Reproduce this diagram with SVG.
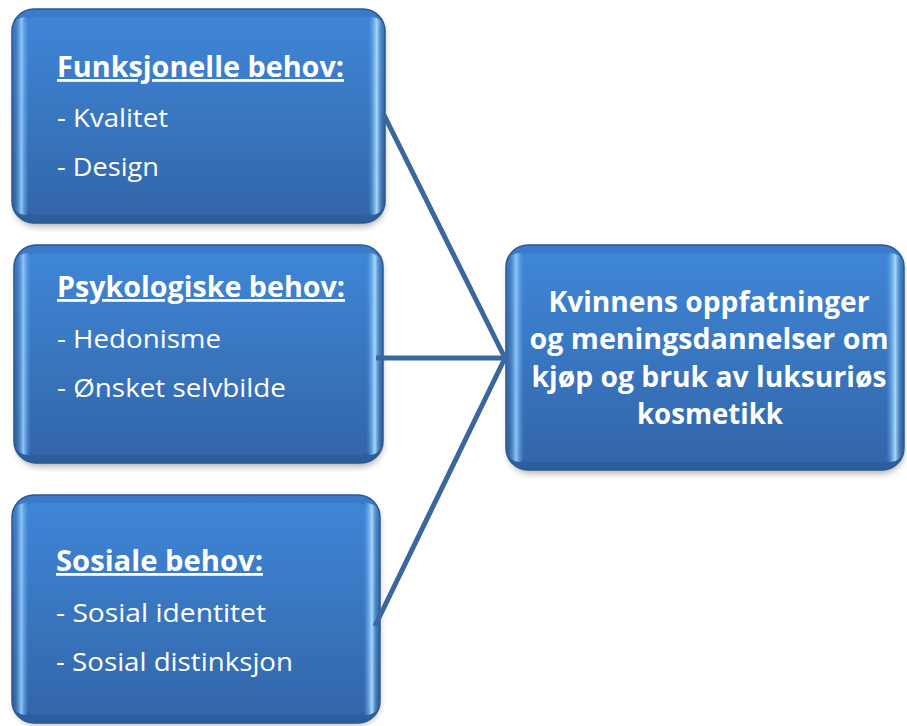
<svg xmlns="http://www.w3.org/2000/svg" width="907" height="726" viewBox="0 0 907 726">
<defs>
<linearGradient id="vert" x1="0" y1="0" x2="0" y2="1">
<stop offset="0" stop-color="#3a7ccb"/>
<stop offset="1" stop-color="#2c5d9c"/>
</linearGradient>
<linearGradient id="inner" x1="0" y1="0" x2="0" y2="1">
<stop offset="0" stop-color="#3f86d7"/>
<stop offset="1" stop-color="#3366a9"/>
</linearGradient>
<linearGradient id="edge" x1="0" y1="0" x2="1" y2="0">
<stop offset="0" stop-color="#2c5c98" stop-opacity="0"/>
<stop offset="0.025" stop-color="#8cc6fb"/>
<stop offset="0.045" stop-color="#5a9de6" stop-opacity="0"/>
<stop offset="0.955" stop-color="#5a9de6" stop-opacity="0"/>
<stop offset="0.978" stop-color="#a6dbff"/>
<stop offset="1" stop-color="#2c5c98" stop-opacity="0"/>
</linearGradient>
<filter id="shadow" x="-10%" y="-10%" width="120%" height="125%">
<feGaussianBlur stdDeviation="3"/>
</filter>
</defs>
<style>
.shadow{fill:#000;opacity:0.28;filter:url(#shadow)}
.base{fill:url(#vert);stroke:#2b5890;stroke-width:1.5}
.in{fill:url(#inner)}
.edge{fill:url(#edge)}
.t{font-family:"Open Sans","Noto Sans",sans-serif;fill:#fff}
.h{font-weight:bold;font-size:28px;text-decoration:underline}
.i{font-size:25.5px}
.c{font-weight:bold;font-size:28px;text-anchor:middle}
.conn{stroke:#3a679f;stroke-width:5;fill:none;stroke-linecap:butt}
</style>
<rect width="907" height="726" fill="#fff"/>

<g id="node-funksjonelle">
<rect class="shadow" x="14" y="13" width="371" height="214" rx="22"/>
<rect class="base" x="12" y="9" width="373" height="214" rx="22"/>
<rect class="in" x="22" y="17" width="353" height="198" rx="14"/>
<rect class="edge" x="12" y="17" width="373" height="198" rx="14"/>
<text class="t h" x="57" y="77" textLength="287" lengthAdjust="spacingAndGlyphs">Funksjonelle behov:</text>
<text class="t i" x="57" y="127" textLength="111" lengthAdjust="spacingAndGlyphs">- Kvalitet</text>
<text class="t i" x="57" y="176" textLength="102" lengthAdjust="spacingAndGlyphs">- Design</text>
</g>

<g id="node-psykologiske">
<rect class="shadow" x="16" y="249" width="367" height="218" rx="22"/>
<rect class="base" x="14" y="245" width="369" height="218" rx="22"/>
<rect class="in" x="24" y="253" width="349" height="202" rx="14"/>
<rect class="edge" x="14" y="253" width="369" height="202" rx="14"/>
<text class="t h" x="57" y="297" textLength="288" lengthAdjust="spacingAndGlyphs">Psykologiske behov:</text>
<text class="t i" x="57" y="348" textLength="164" lengthAdjust="spacingAndGlyphs">- Hedonisme</text>
<text class="t i" x="57" y="397" textLength="229" lengthAdjust="spacingAndGlyphs">- Ønsket selvbilde</text>
</g>

<g id="node-sosiale">
<rect class="shadow" x="14" y="499" width="366" height="226" rx="22"/>
<rect class="base" x="12" y="495" width="368" height="228" rx="22"/>
<rect class="in" x="22" y="503" width="348" height="212" rx="14"/>
<rect class="edge" x="12" y="503" width="368" height="212" rx="14"/>
<text class="t h" x="56" y="571" textLength="207" lengthAdjust="spacingAndGlyphs">Sosiale behov:</text>
<text class="t i" x="56" y="622" textLength="210" lengthAdjust="spacingAndGlyphs">- Sosial identitet</text>
<text class="t i" x="56" y="671" textLength="237" lengthAdjust="spacingAndGlyphs">- Sosial distinksjon</text>
</g>

<g id="node-kvinnens">
<rect class="shadow" x="508" y="249" width="396" height="225" rx="22"/>
<rect class="base" x="506" y="245" width="398" height="225" rx="22"/>
<rect class="in" x="516" y="253" width="378" height="209" rx="14"/>
<rect class="edge" x="506" y="253" width="398" height="209" rx="14"/>
<text class="t c" x="709" y="312" textLength="321" lengthAdjust="spacingAndGlyphs">Kvinnens oppfatninger</text>
<text class="t c" x="709" y="349" textLength="359" lengthAdjust="spacingAndGlyphs">og meningsdannelser om</text>
<text class="t c" x="709" y="387" textLength="355" lengthAdjust="spacingAndGlyphs">kjøp og bruk av luksuriøs</text>
<text class="t c" x="710" y="424" textLength="146" lengthAdjust="spacingAndGlyphs">kosmetikk</text>
</g>

<g id="connectors">
<line class="conn" x1="384" y1="115" x2="505" y2="358"/>
<line class="conn" x1="376" y1="358" x2="505" y2="358"/>
<line class="conn" x1="375" y1="626" x2="505" y2="358"/>
</g>
</svg>
